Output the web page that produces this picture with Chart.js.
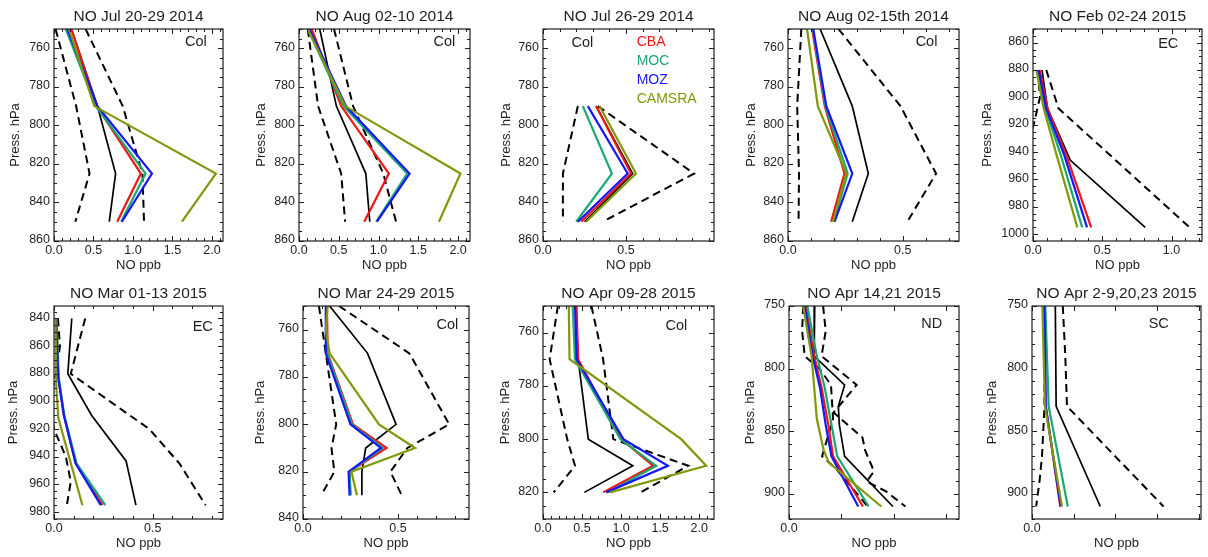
<!DOCTYPE html>
<html>
<head>
<meta charset="utf-8">
<title>NO profiles</title>
<script src="https://cdn.jsdelivr.net/npm/chart.js@4.4.1/dist/chart.umd.min.js"></script>
<style>
  html, body { margin: 0; padding: 0; background: #fff; overflow: hidden; }
  #wrap { position: relative; width: 1208px; height: 557px; }
  #wrap canvas { position: absolute; }
</style>
</head>
<body>
<div id="wrap"></div>
<script>
// panel titles and campaign region tags
const titles = [
  'NO Jul 20-29 2014', 'NO Aug 02-10 2014', 'NO Jul 26-29 2014', 'NO Aug 02-15th 2014', 'NO Feb 02-24 2015',
  'NO Mar 01-13 2015', 'NO Mar 24-29 2015', 'NO Apr 09-28 2015', 'NO Apr 14,21 2015', 'NO Apr 2-9,20,23 2015'
];
const regions = ['Col', 'Col', 'Col', 'Col', 'EC', 'EC', 'Col', 'Col', 'ND', 'SC'];
const modelNames = ['CBA', 'MOC', 'MOZ', 'CAMSRA'];

// x axes (NO ppb)
const xMax = [2.14, 2.15, 1.03, 0.745, 1.22, 0.856, 0.874, 2.19, 0.324, 0.406];
const xTicks = [
  [0, 0.5, 1, 1.5, 2], [0, 0.5, 1, 1.5, 2], [0, 0.5], [0, 0.5], [0, 0.5, 1],
  [0, 0.5], [0, 0.5], [0, 0.5, 1, 1.5, 2], [0, 0.1, 0.2, 0.3], [0, 0.1, 0.2, 0.3, 0.4]
];
const xTickText = [
  ['0.0', '0.5', '1.0', '1.5', '2.0'], ['0.0', '0.5', '1.0', '1.5', '2.0'], ['0.0', '0.5'], ['0.0', '0.5'], ['0.0', '0.5', '1.0'],
  ['0.0', '0.5'], ['0.0', '0.5'], ['0.0', '0.5', '1.0', '1.5', '2.0'], ['0.0', '', '', ''], ['0.0', '', '', '', '']
];
const xMinor = [0.1, 0.1, 0.1, 0.1, 0.1, 0.1, 0.1, 0.1, 0, 0];

// y axes (pressure, hPa, increasing downwards)
const yRange = [[750, 860], [750, 860], [750, 860], [750, 860], [850, 1005],
                [831, 985], [750, 840], [750, 830], [750, 920], [750, 920]];
const yTicks = [
  [760, 780, 800, 820, 840, 860], [760, 780, 800, 820, 840, 860], [760, 780, 800, 820, 840, 860],
  [760, 780, 800, 820, 840, 860], [860, 880, 900, 920, 940, 960, 980, 1000],
  [840, 860, 880, 900, 920, 940, 960, 980], [760, 780, 800, 820, 840], [760, 780, 800, 820],
  [750, 800, 850, 900], [750, 800, 850, 900]
];
const yMinor = [5, 5, 5, 5, 5, 5, 5, 5, 10, 10];

// profiles as [pressure hPa, NO ppb]
const obsMean = [
  [[750, 0.22], [790, 0.55], [825, 0.78], [850, 0.70]],
  [[750, 0.26], [790, 0.47], [825, 0.84], [850, 0.89]],
  [[790, 0.32], [825, 0.54], [850, 0.25]],
  [[750, 0.14], [790, 0.28], [825, 0.35], [850, 0.28]],
  [[880, 0.065], [908, 0.105], [946, 0.27], [995, 0.81]],
  [[840, 0.09], [880, 0.07], [910, 0.19], [943, 0.365], [975, 0.415]],
  [[750, 0.14], [770, 0.34], [800, 0.49], [810, 0.33], [820, 0.31], [830, 0.31]],
  [[750, 0.42], [770, 0.45], [800, 0.58], [810, 1.15], [820, 0.53]],
  [[750, 0.049], [790, 0.048], [813, 0.106], [830, 0.094], [845, 0.096], [870, 0.106], [910, 0.198]],
  [[750, 0.056], [830, 0.058], [910, 0.164]]
];
const obsLow = [
  [[750, 0.02], [790, 0.28], [825, 0.45], [850, 0.27]],
  [[750, 0.11], [790, 0.24], [825, 0.53], [850, 0.58]],
  [[790, 0.21], [825, 0.12], [850, 0.12]],
  [[750, 0.058], [790, 0.04], [825, 0.048], [850, 0.046]],
  [[880, 0.035], [900, 0.05], [920, 0.005], [940, -0.06], [995, -0.3]],
  [[840, 0.02], [860, 0.03], [880, 0.01], [900, -0.02], [920, 0.0], [940, 0.06], [958, 0.085], [975, 0.065]],
  [[750, 0.084], [770, 0.12], [800, 0.175], [810, 0.15], [820, 0.165], [830, 0.096]],
  [[750, 0.19], [770, 0.085], [800, 0.31], [810, 0.41], [820, 0.137]],
  [[750, 0.027], [770, 0.025], [790, 0.03], [800, 0.058], [813, 0.08], [840, 0.084], [870, 0.063], [880, 0.09], [910, 0.15]],
  [[750, 0.03], [830, 0.03], [870, 0.024], [890, 0.018], [910, 0.01]]
];
const obsHigh = [
  [[750, 0.40], [790, 0.87], [825, 1.12], [850, 1.14]],
  [[750, 0.44], [790, 0.68], [825, 1.06], [850, 1.22]],
  [[790, 0.33], [825, 0.91], [850, 0.36]],
  [[750, 0.22], [790, 0.49], [825, 0.645], [850, 0.52]],
  [[880, 0.096], [908, 0.184], [995, 1.13]],
  [[840, 0.158], [880, 0.085], [920, 0.483], [945, 0.636], [975, 0.768]],
  [[750, 0.19], [770, 0.56], [800, 0.77], [810, 0.55], [820, 0.46], [830, 0.52]],
  [[750, 0.62], [770, 0.77], [800, 0.90], [810, 1.86], [820, 1.25]],
  [[750, 0.065], [770, 0.07], [790, 0.062], [813, 0.129], [835, 0.085], [855, 0.14], [865, 0.145], [882, 0.162], [890, 0.148], [898, 0.185], [910, 0.222]],
  [[750, 0.074], [790, 0.08], [830, 0.084], [910, 0.316]]
];
const cba = [
  [[750, 0.22], [790, 0.54], [825, 1.10], [850, 0.80]],
  [[750, 0.16], [790, 0.53], [825, 1.13], [850, 0.82]],
  [[790, 0.32], [825, 0.53], [850, 0.23]],
  [[750, 0.105], [790, 0.16], [825, 0.246], [850, 0.188]],
  [[880, 0.048], [908, 0.105], [942, 0.24], [995, 0.42]],
  [[840, 0.012], [883, 0.022], [910, 0.05], [945, 0.11], [975, 0.246]],
  [[750, 0.126], [770, 0.13], [800, 0.263], [810, 0.44], [820, 0.245], [830, 0.25]],
  [[750, 0.43], [770, 0.45], [800, 1.0], [810, 1.41], [820, 0.77]],
  [[750, 0.032], [790, 0.048], [815, 0.062], [845, 0.075], [870, 0.084], [910, 0.141]],
  [[750, 0.027], [830, 0.033], [910, 0.068]]
];
const moc = [
  [[750, 0.15], [790, 0.53], [825, 1.16], [850, 0.85]],
  [[750, 0.11], [790, 0.56], [825, 1.36], [850, 0.97]],
  [[790, 0.24], [825, 0.415], [850, 0.20]],
  [[750, 0.108], [790, 0.163], [825, 0.26], [850, 0.20]],
  [[880, 0.033], [908, 0.088], [942, 0.20], [995, 0.355]],
  [[840, 0.012], [883, 0.024], [910, 0.052], [945, 0.115], [975, 0.26]],
  [[750, 0.123], [770, 0.127], [800, 0.258], [810, 0.42], [820, 0.245], [830, 0.25]],
  [[750, 0.38], [770, 0.41], [800, 0.99], [810, 1.45], [820, 0.83]],
  [[750, 0.035], [790, 0.053], [815, 0.068], [845, 0.081], [870, 0.092], [910, 0.152]],
  [[750, 0.032], [830, 0.04], [910, 0.086]]
];
const moz = [
  [[750, 0.17], [790, 0.55], [825, 1.24], [850, 0.86]],
  [[750, 0.13], [790, 0.59], [825, 1.39], [850, 0.98]],
  [[790, 0.27], [825, 0.51], [850, 0.21]],
  [[750, 0.11], [790, 0.167], [825, 0.28], [850, 0.203]],
  [[880, 0.04], [908, 0.095], [942, 0.225], [995, 0.39]],
  [[840, 0.01], [883, 0.022], [910, 0.05], [945, 0.11], [975, 0.237]],
  [[750, 0.12], [770, 0.12], [800, 0.25], [810, 0.41], [820, 0.24], [830, 0.245]],
  [[750, 0.41], [770, 0.43], [800, 1.03], [810, 1.60], [820, 0.81]],
  [[750, 0.030], [790, 0.045], [815, 0.059], [845, 0.070], [870, 0.081], [910, 0.132]],
  [[750, 0.03], [830, 0.033], [910, 0.069]]
];
const camsra = [
  [[750, 0.19], [790, 0.51], [825, 2.05], [850, 1.62]],
  [[750, 0.11], [790, 0.58], [825, 2.03], [850, 1.76]],
  [[790, 0.34], [825, 0.56], [850, 0.26]],
  [[750, 0.083], [790, 0.13], [825, 0.254], [850, 0.196]],
  [[880, 0.024], [908, 0.077], [942, 0.17], [995, 0.32]],
  [[840, 0.008], [890, 0.012], [912, 0.022], [975, 0.144]],
  [[750, 0.13], [760, 0.12], [770, 0.14], [800, 0.40], [810, 0.59], [820, 0.255], [830, 0.284]],
  [[750, 0.33], [770, 0.34], [800, 1.77], [810, 2.09], [820, 0.86]],
  [[750, 0.027], [790, 0.043], [840, 0.053], [865, 0.066], [875, 0.076], [910, 0.176]],
  [[750, 0.025], [830, 0.031], [910, 0.072]]
];

// page layout: plot box edges in page pixels
const plotLeft  = [54, 299, 543, 788, 1033, 54, 303, 543, 789, 1032];
const plotRight = [223, 470, 714, 959, 1202, 223, 469, 714, 959, 1201];
const rowTop = [0, 278], rowHeight = [278, 279];
const plotTop = [29, 306], plotBottom = [241, 519];
const yTitleGap = [39, 38, 37, 37, 46, 41, 43, 38, 39, 40];
// region tag centre as fraction of the plot box
const tagPos = [[0.84, 0.06], [0.85, 0.06], [0.23, 0.066], [0.81, 0.06], [0.80, 0.07],
                [0.88, 0.10], [0.87, 0.087], [0.78, 0.094], [0.84, 0.085], [0.75, 0.085]];

const FONT = 'Liberation Sans, Arial, Helvetica, sans-serif';
const INK = '#1e1e1e';
const colours = { CBA: 'rgb(240,22,22)', MOC: 'rgb(26,168,114)', MOZ: 'rgb(22,22,250)', CAMSRA: 'rgb(128,152,10)' };
const AXIS_W = 62, RIGHT_PAD = 8;

function profile(pairs, colour, width, dash) {
  return {
    data: pairs.map(([p, v]) => ({ x: v, y: p })),
    showLine: true,
    borderColor: colour,
    backgroundColor: colour,
    borderWidth: width,
    borderDash: dash || [],
    pointRadius: 0,
    tension: 0,
    clip: 0
  };
}

// frame with inward ticks on all four sides, title, region tag and model key
const panelDecor = {
  id: 'panelDecor',
  afterDatasetsDraw(chart, args, o) {
    const i = o.panel;
    const { ctx, chartArea: a } = chart;
    const xs = chart.scales.x, ys = chart.scales.y;
    ctx.save();
    ctx.strokeStyle = INK;
    ctx.lineWidth = 1;
    ctx.beginPath();
    const xMark = (v, len) => {
      const px = Math.round(xs.getPixelForValue(v)) + 0.5;
      ctx.moveTo(px, a.bottom); ctx.lineTo(px, a.bottom - len);
      ctx.moveTo(px, a.top); ctx.lineTo(px, a.top + len);
    };
    const yMark = (v, len) => {
      const py = Math.round(ys.getPixelForValue(v)) + 0.5;
      ctx.moveTo(a.left, py); ctx.lineTo(a.left + len, py);
      ctx.moveTo(a.right, py); ctx.lineTo(a.right - len, py);
    };
    xTicks[i].forEach(v => xMark(v, 5));
    if (xMinor[i]) {
      for (let k = 1; k * xMinor[i] < xMax[i] - 1e-6; k++) xMark(k * xMinor[i], 3);
    }
    const [y0, y1] = yRange[i];
    yTicks[i].forEach(v => yMark(v, 5));
    for (let k = Math.ceil(y0 / yMinor[i]); k * yMinor[i] <= y1; k++) yMark(k * yMinor[i], 3);
    ctx.stroke();
    ctx.lineWidth = 1.2;
    ctx.strokeRect(a.left, a.top, a.right - a.left, a.bottom - a.top);
    ctx.restore();
  },
  afterDraw(chart, args, o) {
    const i = o.panel;
    const { ctx, chartArea: a } = chart;
    const w = a.right - a.left, h = a.bottom - a.top;
    ctx.save();
    ctx.textBaseline = 'middle';
    ctx.textAlign = 'center';
    ctx.fillStyle = INK;
    ctx.font = '15.5px ' + FONT;
    ctx.fillText(titles[i], (a.left + a.right) / 2, a.top - 12);
    ctx.font = '14.5px ' + FONT;
    ctx.fillText(regions[i], a.left + w * tagPos[i][0], a.top + h * tagPos[i][1]);
    if (i === 2) {
      ctx.textAlign = 'left';
      ctx.font = '14px ' + FONT;
      modelNames.forEach((name, k) => {
        ctx.fillStyle = colours[name];
        ctx.fillText(name, a.left + w * 0.548, a.top + h * 0.063 + k * 19);
      });
    }
    ctx.restore();
  }
};

const wrap = document.getElementById('wrap');
titles.forEach((t, i) => {
  const row = i < 5 ? 0 : 1;
  const cv = document.createElement('canvas');
  const cw = plotRight[i] - plotLeft[i] + AXIS_W + RIGHT_PAD;
  const ch = rowHeight[row];
  cv.width = cw; cv.height = ch;
  cv.style.left = (plotLeft[i] - AXIS_W) + 'px';
  cv.style.top = rowTop[row] + 'px';
  cv.style.width = cw + 'px'; cv.style.height = ch + 'px';
  wrap.appendChild(cv);

  const xAxisH = ch - (plotBottom[row] - rowTop[row]);
  const tickFont = { family: FONT, size: 12.5 };
  const titleFont = { family: FONT, size: 13 };

  new Chart(cv, {
    type: 'scatter',
    data: {
      datasets: [
        profile(camsra[i], colours.CAMSRA, 2.2),
        profile(moz[i], colours.MOZ, 2.2),
        profile(moc[i], colours.MOC, 2.2),
        profile(cba[i], colours.CBA, 2.2),
        profile(obsMean[i], '#000', 1.7),
        profile(obsLow[i], '#000', 2, [8, 5]),
        profile(obsHigh[i], '#000', 2, [8, 5])
      ]
    },
    options: {
      responsive: false,
      animation: false,
      devicePixelRatio: 1,
      events: [],
      layout: { padding: { top: plotTop[row] - rowTop[row], right: RIGHT_PAD, left: 0, bottom: 0 } },
      plugins: {
        legend: { display: false },
        tooltip: { enabled: false },
        panelDecor: { panel: i }
      },
      scales: {
        x: {
          type: 'linear',
          min: 0,
          max: xMax[i],
          grid: { display: false, drawTicks: false },
          border: { display: false },
          afterBuildTicks: s => { s.ticks = xTicks[i].map(v => ({ value: v })); },
          afterFit: s => { s.height = xAxisH; },
          ticks: {
            autoSkip: false, maxRotation: 0, padding: 2,
            color: INK, font: tickFont,
            callback: (v, k) => xTickText[i][k]
          },
          title: { display: true, text: 'NO ppb', color: INK, font: titleFont,
                   padding: { top: 0, bottom: xAxisH - 24 - 7.8 } }
        },
        y: {
          type: 'linear',
          reverse: true,
          min: yRange[i][0],
          max: yRange[i][1],
          grid: { display: false, drawTicks: false },
          border: { display: false },
          afterBuildTicks: s => { s.ticks = yTicks[i].map(v => ({ value: v })); },
          afterFit: s => { s.width = AXIS_W; },
          ticks: {
            autoSkip: false, padding: 4, labelOffset: -1,
            color: INK, font: tickFont,
            callback: v => String(v)
          },
          title: { display: true, text: 'Press. hPa', color: INK, font: titleFont,
                   padding: { top: AXIS_W - yTitleGap[i] - 7.8, bottom: 0 } }
        }
      }
    },
    plugins: [panelDecor]
  });
});
</script>
</body>
</html>
